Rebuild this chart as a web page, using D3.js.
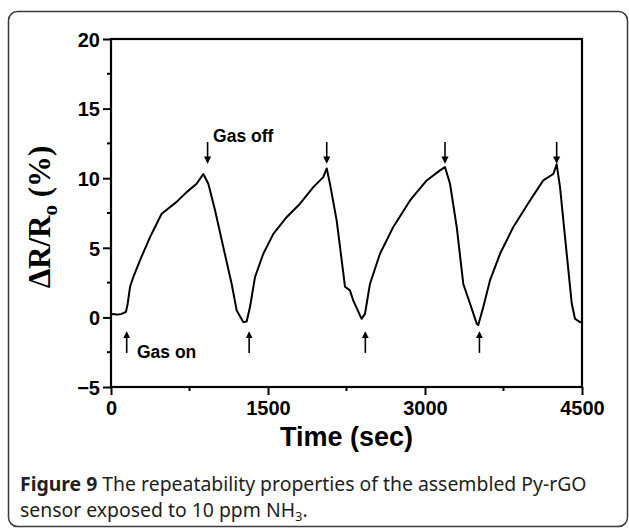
<!DOCTYPE html>
<html>
<head>
<meta charset="utf-8">
<script src="https://cdn.jsdelivr.net/npm/d3@7"></script>
<style>
  html, body { margin: 0; padding: 0; background: #fff; }
  svg { display: block; }
</style>
</head>
<body>
<svg id="chart" width="629" height="529"></svg>
<script>
// sensor response (time in sec, dR/R0 in %)
const timeSec = [0, 60, 100, 130, 143, 160, 182, 213, 277, 373, 484, 627, 723, 818, 882,
    930, 994, 1073, 1153, 1201, 1264, 1296, 1328, 1376, 1455, 1551, 1678, 1806, 1933, 2028, 2061,
    2092, 2156, 2236, 2283, 2315, 2379, 2395, 2427, 2474, 2570, 2697, 2857, 3016, 3143, 3191,
    3239, 3303, 3366, 3430, 3494, 3509, 3557, 3621, 3717, 3844, 4003, 4130, 4226, 4258,
    4290, 4354, 4402, 4433, 4481, 4500];
const response = [0.25, 0.2, 0.25, 0.35, 0.4, 1.0, 2.2, 2.9, 4.1, 5.77, 7.45, 8.3, 9.0, 9.6, 10.3,
    9.6, 7.7, 5.05, 2.4, 0.5, -0.34, -0.3, 0.74, 2.9, 4.57, 6.0, 7.2, 8.17, 9.36, 10.08, 10.7,
    9.6, 6.97, 2.2, 1.94, 1.2, 0.14, -0.1, 0.27, 2.4, 4.57, 6.5, 8.4, 9.84, 10.56, 10.8,
    9.6, 6.5, 2.4, 1.0, -0.45, -0.55, 0.74, 2.66, 4.57, 6.5, 8.4, 9.84, 10.3, 11.0,
    9.36, 4.57, 1.0, -0.1, -0.34, -0.3];

// arrows: gas off (down) and gas on (up)
const gasOffTimes = [923, 2061, 3191, 4258];
const gasOnTimes = [150, 1320, 2430, 3520];

const xTicks = [0, 1500, 3000, 4500];
const xMinor = [750, 2250, 3750];
const yTicks = [-5, 0, 5, 10, 15, 20];
const yMinor = [-2.5, 2.5, 7.5, 12.5, 17.5];

const svg = d3.select("#chart");

// outer frame of the figure
svg.append("rect")
    .attr("x", 8.5).attr("y", 11.5)
    .attr("width", 619).attr("height", 515)
    .attr("rx", 9)
    .attr("fill", "none")
    .attr("stroke", "#3a3a3a")
    .attr("stroke-width", 1.5);

const pLeft = 111, pRight = 582, pTop = 39, pBottom = 387;
const x = d3.scaleLinear().domain([0, 4500]).range([pLeft, pRight]);
const y = d3.scaleLinear().domain([-5, 20]).range([pBottom, pTop]);

const tickFont = "'Liberation Sans', Arial, sans-serif";

// axes
const xAxis = svg.append("g")
    .attr("transform", `translate(0,${pBottom})`)
    .call(d3.axisBottom(x).tickValues(xTicks).tickSize(8).tickPadding(6).tickFormat(d3.format("d")));
const yAxis = svg.append("g")
    .attr("transform", `translate(${pLeft},0)`)
    .call(d3.axisLeft(y).tickValues(yTicks).tickSize(8).tickPadding(3));

[xAxis, yAxis].forEach(g => {
    g.select(".domain").remove();
    g.selectAll(".tick line").attr("stroke", "#000").attr("stroke-width", 2);
    g.selectAll(".tick text")
        .attr("fill", "#000")
        .attr("font-family", tickFont)
        .attr("font-weight", "bold")
        .attr("font-size", 20);
});
yAxis.selectAll(".tick text").attr("dy", "0.36em");

// minor ticks
svg.append("g").selectAll("line")
    .data(xMinor).join("line")
    .attr("x1", d => x(d)).attr("x2", d => x(d))
    .attr("y1", pBottom).attr("y2", pBottom + 4)
    .attr("stroke", "#000").attr("stroke-width", 2);
svg.append("g").selectAll("line")
    .data(yMinor).join("line")
    .attr("x1", pLeft - 4).attr("x2", pLeft)
    .attr("y1", d => y(d)).attr("y2", d => y(d))
    .attr("stroke", "#000").attr("stroke-width", 2);

// plot box
svg.append("rect")
    .attr("x", pLeft).attr("y", pTop)
    .attr("width", pRight - pLeft).attr("height", pBottom - pTop)
    .attr("fill", "none")
    .attr("stroke", "#000")
    .attr("stroke-width", 2.2);

// the trace
const pts = timeSec.map((t, i) => [t, response[i]]);
svg.append("path")
    .datum(pts)
    .attr("fill", "none")
    .attr("stroke", "#000")
    .attr("stroke-width", 2)
    .attr("stroke-linejoin", "round")
    .attr("d", d3.line().x(d => x(d[0])).y(d => y(d[1])));

// arrow marker
svg.append("defs").append("marker")
    .attr("id", "head")
    .attr("viewBox", "0 -5 10 10")
    .attr("refX", 8).attr("refY", 0)
    .attr("markerWidth", 4.5).attr("markerHeight", 5)
    .attr("markerUnits", "strokeWidth")
    .attr("orient", "auto")
    .append("path")
    .attr("d", "M0,-5L10,0L0,5Z")
    .attr("fill", "#000");

svg.append("g").selectAll("line")
    .data(gasOffTimes).join("line")
    .attr("x1", d => x(d)).attr("x2", d => x(d))
    .attr("y1", y(12.6)).attr("y2", y(11.15))
    .attr("stroke", "#000").attr("stroke-width", 1.6)
    .attr("marker-end", "url(#head)");

svg.append("g").selectAll("line")
    .data(gasOnTimes).join("line")
    .attr("x1", d => x(d)).attr("x2", d => x(d))
    .attr("y1", y(-2.55)).attr("y2", y(-1.1))
    .attr("stroke", "#000").attr("stroke-width", 1.6)
    .attr("marker-end", "url(#head)");

// annotations
svg.append("text")
    .attr("x", x(975)).attr("y", y(12.57))
    .attr("font-family", tickFont).attr("font-weight", "bold").attr("font-size", 17.5)
    .text("Gas off");
svg.append("text")
    .attr("x", x(248)).attr("y", y(-2.95))
    .attr("font-family", tickFont).attr("font-weight", "bold").attr("font-size", 17.5)
    .text("Gas on");

// axis titles
svg.append("text")
    .attr("x", (pLeft + pRight) / 2).attr("y", 446)
    .attr("text-anchor", "middle")
    .attr("font-family", tickFont).attr("font-weight", "bold").attr("font-size", 27)
    .text("Time (sec)");

const yl = svg.append("text")
    .attr("transform", `translate(50,${(pTop + pBottom) / 2 + 4}) rotate(-90)`)
    .attr("text-anchor", "middle")
    .attr("font-family", "'Liberation Serif', 'Times New Roman', serif")
    .attr("font-weight", "bold").attr("font-size", 31);
yl.append("tspan").text("\u0394R/R");
yl.append("tspan").attr("font-size", 21).attr("dy", 7).text("o");
yl.append("tspan").attr("dy", -7).text(" (%)");

// caption
const capFont = "'Noto Sans', 'Open Sans', sans-serif";
const cap1 = svg.append("text")
    .attr("x", 20).attr("y", 491)
    .attr("font-family", capFont).attr("font-size", 19.4).attr("fill", "#231f20");
cap1.append("tspan").attr("font-weight", "bold").text("Figure 9");
cap1.append("tspan").text(" The repeatability properties of the assembled Py-rGO");
const cap2 = svg.append("text")
    .attr("x", 20).attr("y", 517)
    .attr("font-family", capFont).attr("font-size", 19.4).attr("fill", "#231f20");
cap2.append("tspan").text("sensor exposed to 10 ppm NH");
cap2.append("tspan").attr("font-size", 13).attr("dy", 4).text("3");
cap2.append("tspan").attr("dy", -4).text(".");
</script>
</body>
</html>
